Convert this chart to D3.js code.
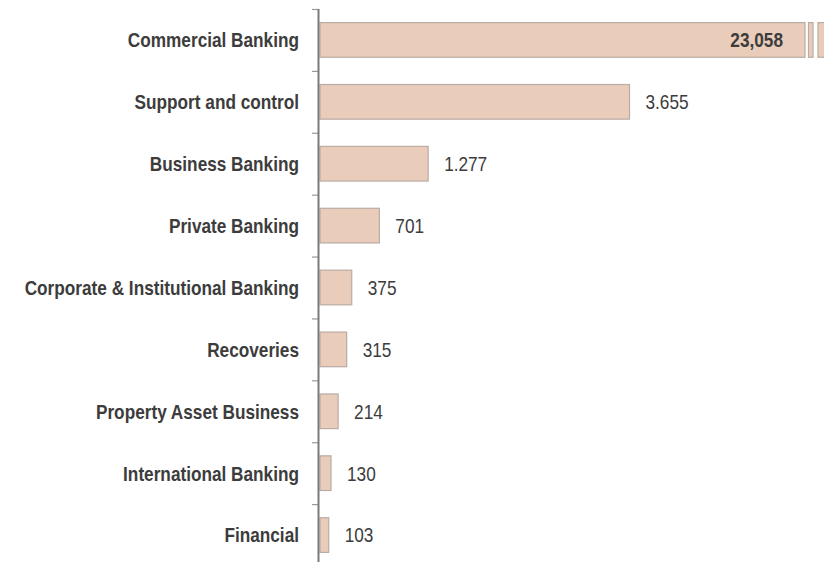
<!DOCTYPE html>
<html>
<head>
<meta charset="utf-8">
<script src="https://cdn.jsdelivr.net/npm/d3@7"></script>
<style>
  html, body { margin: 0; padding: 0; background: #fff; }
  svg { display: block; }
  text { font-family: "Liberation Sans", Arial, sans-serif; fill: #3c3c3c; }
</style>
</head>
<body>
<svg id="chart" width="824" height="562"></svg>
<script>
// Headcount by business unit
const categories = [
  "Commercial Banking",
  "Support and control",
  "Business Banking",
  "Private Banking",
  "Corporate & Institutional Banking",
  "Recoveries",
  "Property Asset Business",
  "International Banking",
  "Financial"
];
const values = [23058, 3655, 1277, 701, 375, 315, 214, 130, 103];
const valueLabels = ["23,058", "3.655", "1.277", "701", "375", "315", "214", "130", "103"];

const W = 824, H = 562;
const axisX = 318.5;
const narrow = 0.82;   // condensed face: horizontal squeeze of the sans
const svg = d3.select("#chart");

const x = d3.scaleLinear().domain([0, 3655]).range([axisX + 1.5, 629.5]);
const y = d3.scaleBand().domain(categories).range([9, 566]).paddingInner(0.44).paddingOuter(0.22);

// scale break for values beyond the plot area
const breakEnd = 805;
const breakGaps = [[805, 808.5], [813, 818]];

const data = categories.map((c, i) => ({ c, v: values[i], label: valueLabels[i] }));

const fill = "#e9ccba", stroke = "#b9aca4";

// condensed text helper
function label(parent, tx, ty, str, anchor, weight) {
  const g = parent.append("g").attr("transform", `translate(${tx},${ty}) scale(${narrow},1)`);
  g.append("text")
    .attr("dy", "0.35em")
    .attr("text-anchor", anchor)
    .attr("font-weight", weight)
    .attr("font-size", 21)
    .text(str);
  return g;
}

const bars = svg.append("g");
data.forEach(d => {
  const x0 = x(0), x1 = x(d.v), top = y(d.c), h = y.bandwidth();
  if (x1 <= breakEnd) {
    bars.append("rect")
      .attr("x", x0).attr("y", top).attr("width", x1 - x0).attr("height", h)
      .attr("fill", fill).attr("stroke", stroke).attr("stroke-width", 1.2);
  } else {
    // broken bar: segments separated by white gaps
    const segs = [[x0, breakGaps[0][0]], [breakGaps[0][1], breakGaps[1][0]], [breakGaps[1][1], Math.min(x1, W + 10)]];
    segs.forEach(s => {
      bars.append("rect")
        .attr("x", s[0]).attr("y", top).attr("width", s[1] - s[0]).attr("height", h)
        .attr("fill", fill).attr("stroke", stroke).attr("stroke-width", 1.2);
    });
  }
});

// value labels
data.forEach(d => {
  const x1 = x(d.v), cy = y(d.c) + y.bandwidth() / 2;
  if (x1 > breakEnd) {
    label(svg, 783, cy, d.label, "end", "bold");
  } else {
    label(svg, x1 + 16, cy, d.label, "start", "normal");
  }
});

// category axis with ticks at band boundaries
const step = y.step();
const boundaries = d3.range(categories.length + 1).map(i => 9 + i * step);
const ax = svg.append("g");
ax.selectAll("line.tick").data(boundaries).enter().append("line")
  .attr("x1", axisX - 6.5).attr("x2", axisX).attr("y1", d => d + 0.5).attr("y2", d => d + 0.5)
  .attr("stroke", "#9a9a9a").attr("stroke-width", 1.2);
ax.append("line")
  .attr("x1", axisX).attr("x2", axisX).attr("y1", 9).attr("y2", H)
  .attr("stroke", "#7a7a7a").attr("stroke-width", 2);

categories.forEach(c => {
  label(ax, 299, y(c) + y.bandwidth() / 2, c, "end", "bold");
});
</script>
</body>
</html>
